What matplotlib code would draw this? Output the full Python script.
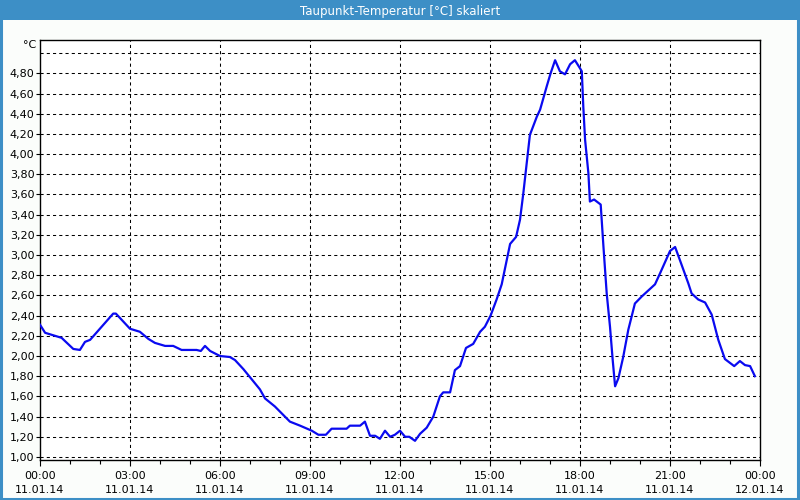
import matplotlib
matplotlib.use("Agg")
import matplotlib.pyplot as plt
from matplotlib.patches import Rectangle
from matplotlib.ticker import FixedLocator, MultipleLocator

# ---- data ----
hours = [0.0, 0.17, 0.5, 0.72, 1.11, 1.33, 1.5, 1.67, 2.44, 2.53, 3.0, 3.33, 3.61,
         3.83, 4.17, 4.44, 4.72, 5.22, 5.36, 5.5, 5.67, 6.0, 6.33, 6.5, 6.78, 7.0,
         7.33, 7.5, 7.83, 8.33, 8.67, 9.06, 9.28, 9.53, 9.72, 10.22, 10.33, 10.67,
         10.83, 11.0, 11.17, 11.33, 11.5, 11.67, 11.83, 12.0, 12.17, 12.31, 12.5,
         12.67, 12.89, 13.11, 13.33, 13.44, 13.67, 13.83, 14.0, 14.2, 14.44, 14.67,
         14.83, 15.02, 15.22, 15.39, 15.67, 15.87, 16.0, 16.11, 16.33, 16.56, 16.67,
         16.89, 17.02, 17.17, 17.33, 17.5, 17.67, 17.83, 18.0, 18.06, 18.11, 18.17,
         18.28, 18.33, 18.47, 18.69, 18.78, 18.89, 19.0, 19.09, 19.17, 19.28, 19.44,
         19.61, 19.83, 20.06, 20.5, 20.67, 21.0, 21.17, 21.33, 21.61, 21.72, 21.94,
         22.17, 22.39, 22.61, 22.83, 23.14, 23.33, 23.5, 23.67, 23.83]
dewpoint = [2.31, 2.23, 2.20, 2.18, 2.07, 2.06, 2.14, 2.16, 2.42, 2.42, 2.27, 2.24, 2.17,
            2.13, 2.10, 2.10, 2.06, 2.06, 2.05, 2.10, 2.05, 2.00, 1.99, 1.96, 1.87, 1.79,
            1.67, 1.58, 1.50, 1.35, 1.31, 1.26, 1.22, 1.22, 1.28, 1.28, 1.31, 1.31,
            1.35, 1.21, 1.21, 1.18, 1.26, 1.20, 1.22, 1.26, 1.20, 1.20, 1.16,
            1.23, 1.29, 1.40, 1.60, 1.64, 1.64, 1.86, 1.90, 2.08, 2.12, 2.24,
            2.29, 2.40, 2.56, 2.71, 3.11, 3.18, 3.35, 3.61, 4.19, 4.37, 4.44,
            4.67, 4.80, 4.93, 4.82, 4.79, 4.89, 4.93, 4.85, 4.82, 4.47, 4.14,
            3.81, 3.53, 3.55, 3.50, 3.09, 2.62, 2.29, 1.96, 1.70, 1.78, 1.99,
            2.26, 2.52, 2.59, 2.71, 2.82, 3.04, 3.08, 2.95, 2.72, 2.62, 2.56,
            2.53, 2.41, 2.16, 1.97, 1.90, 1.95, 1.91, 1.90, 1.80]

x_tick_pos = [0, 3, 6, 9, 12, 15, 18, 21, 24]
x_tick_labels = ["00:00\n11.01.14", "03:00\n11.01.14", "06:00\n11.01.14",
                 "09:00\n11.01.14", "12:00\n11.01.14", "15:00\n11.01.14",
                 "18:00\n11.01.14", "21:00\n11.01.14", "00:00\n12.01.14"]
y_tick_vals = [1.0, 1.2, 1.4, 1.6, 1.8, 2.0, 2.2, 2.4, 2.6, 2.8, 3.0, 3.2, 3.4,
               3.6, 3.8, 4.0, 4.2, 4.4, 4.6, 4.8]
y_grid_extra = [5.0]
title = "Taupunkt-Temperatur [°C] skaliert"
unit = "°C"

plt.rcParams['font.family'] = ['DejaVu Sans']

fig = plt.figure(figsize=(8, 5), dpi=100, facecolor="#fbfdfb")

# title bar
fig.patches.append(Rectangle((0, 0.96), 1, 0.04, transform=fig.transFigure,
                             facecolor="#3d8fc6", edgecolor="none", zorder=0))
# window border
fig.patches.append(Rectangle((0.001, 0.002), 0.997, 0.997, transform=fig.transFigure,
                             facecolor="none", edgecolor="#3d8fc6", linewidth=2.2, zorder=5))
fig.text(0.5, 0.978, title, color="white", ha="center", va="center",
         fontsize=8.5)

ax = fig.add_axes([0.05, 0.08, 0.90, 0.84])
ax.set_facecolor("white")
ax.plot(hours, dewpoint, color="#0a0af0", linewidth=1.6, zorder=3)

ax.set_xlim(0, 24)
ax.set_ylim(0.97, 5.13)

ax.xaxis.set_major_locator(FixedLocator(x_tick_pos))
ax.set_xticklabels(x_tick_labels)
ax.xaxis.set_minor_locator(MultipleLocator(1))
ax.set_yticks(y_tick_vals)
ax.set_yticklabels([f"{v:.2f}".replace(".", ",") for v in y_tick_vals])

grid_kw = dict(color="black", linewidth=0.75, linestyle=(0, (3, 3)), zorder=1)
for v in y_tick_vals + y_grid_extra:
    ax.axhline(v, **grid_kw)
for h in x_tick_pos[1:-1]:
    ax.axvline(h, **grid_kw)

for s in ax.spines.values():
    s.set_color("black")
    s.set_linewidth(1.0)

ax.tick_params(axis="x", which="major", length=4, width=0.8, labelsize=8,
               pad=4, direction="out", colors="black")
ax.tick_params(axis="x", which="minor", length=3, width=0.8, direction="out")
ax.tick_params(axis="y", which="major", length=3, width=0.8, labelsize=8,
               pad=1, direction="out")
for lbl in ax.get_xticklabels():
    lbl.set_linespacing(1.45)

fig.text(0.045, 0.91, unit, ha="right", va="center", fontsize=8)

fig.savefig("out.png", dpi=100, facecolor=fig.get_facecolor())
